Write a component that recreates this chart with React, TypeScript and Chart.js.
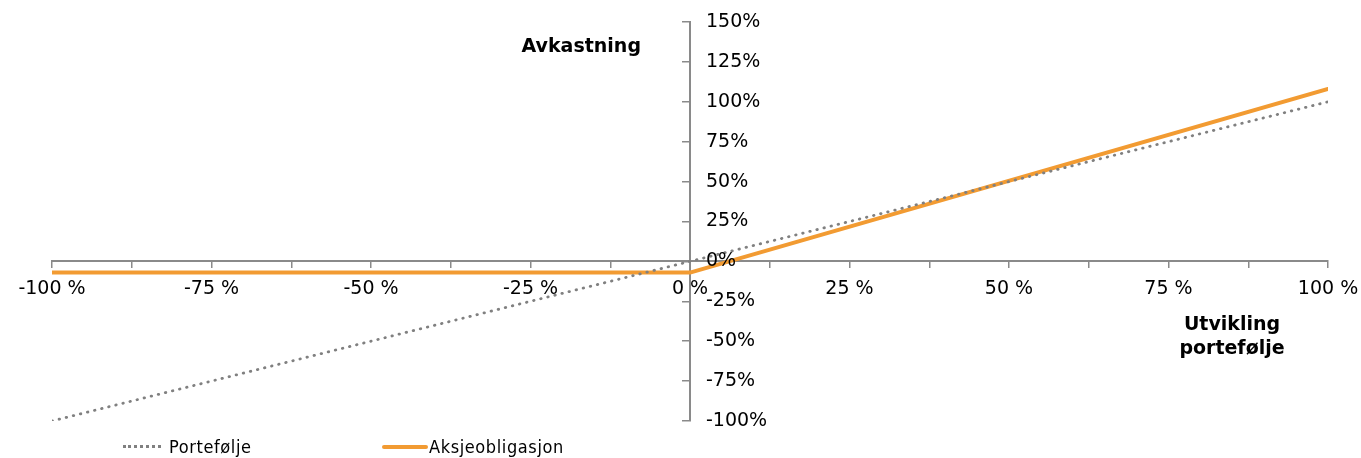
import { useEffect, useRef } from 'react';
import { Chart, registerables } from 'chart.js';

Chart.register(...registerables);

// x = utvikling portefølje (%), y = avkastning (%)
const xPoints = [-100, 0, 100];
const portefolje = [-100, 0, 100];
const aksjeobligasjon = [-7, -7, 108];

const xMin = -100;
const xMax = 100;
const xStep = 12.5;
const xLabelStep = 25;
const yMin = -100;
const yMax = 150;
const yStep = 25;

const seriesNames = ['Portefølje', 'Aksjeobligasjon'];
const grey = '#808080';
const orange = '#F29B32';
const axisColor = '#8a8a8a';
const tickFont = { family: '"DejaVu Sans", Verdana, sans-serif', size: 19 };

// y tick labels sit to the right of the y axis (which crosses at x = 0)
const yLabelsRight = {
  id: 'yLabelsRight',
  afterDraw(chart: any) {
    const { ctx, scales } = chart;
    const x0 = scales.x.getPixelForValue(0);
    ctx.save();
    ctx.font = `${tickFont.size}px ${tickFont.family}`;
    ctx.fillStyle = '#000';
    ctx.textAlign = 'left';
    ctx.textBaseline = 'middle';
    for (const t of scales.y.ticks) {
      ctx.fillText(`${t.value}%`, x0 + 16, scales.y.getPixelForValue(t.value));
    }
    ctx.restore();
  },
};

export default function App() {
  const canvasRef = useRef<HTMLCanvasElement | null>(null);

  useEffect(() => {
    if (!canvasRef.current) return;
    const chart = new Chart(canvasRef.current, {
      type: 'scatter',
      data: {
        datasets: [
          {
            label: seriesNames[0],
            data: xPoints.map((x, i) => ({ x, y: portefolje[i] })),
            showLine: true,
            borderColor: grey,
            borderWidth: 2.8,
            borderDash: [0.5, 6.8],
            borderCapStyle: 'round',
            pointRadius: 0,
          },
          {
            label: seriesNames[1],
            data: xPoints.map((x, i) => ({ x, y: aksjeobligasjon[i] })),
            showLine: true,
            borderColor: orange,
            borderWidth: 4,
            borderCapStyle: 'round',
            borderJoinStyle: 'round',
            pointRadius: 0,
          },
        ],
      },
      options: {
        animation: false,
        responsive: true,
        maintainAspectRatio: false,
        layout: { padding: { left: 52, right: 33, top: 22, bottom: 37 } },
        plugins: {
          legend: { display: false },
          tooltip: { enabled: false },
        },
        scales: {
          x: {
            type: 'linear',
            min: xMin,
            max: xMax,
            position: { y: 0 } as any,
            border: { color: axisColor, width: 2 },
            grid: { drawOnChartArea: false, drawTicks: true, tickLength: 6, color: axisColor, lineWidth: 1.5 },
            ticks: {
              stepSize: xStep,
              font: tickFont,
              color: '#000',
              padding: 10,
              maxRotation: 0,
              autoSkip: false,
              callback: (v: any) => (Number(v) % xLabelStep === 0 ? `${v} %` : ''),
            },
            afterFit: (scale: any) => {
              scale.paddingLeft = 0;
              scale.paddingRight = 0;
            },
          },
          y: {
            type: 'linear',
            min: yMin,
            max: yMax,
            position: { x: 0 } as any,
            border: { color: axisColor, width: 2 },
            grid: { drawOnChartArea: false, drawTicks: true, tickLength: 7, color: axisColor, lineWidth: 1.5 },
            ticks: { stepSize: yStep, display: false },
          },
        },
      },
      plugins: [yLabelsRight],
    });
    return () => chart.destroy();
  }, []);

  const titleStyle: React.CSSProperties = {
    position: 'absolute',
    fontFamily: '"DejaVu Sans", Verdana, sans-serif',
    fontWeight: 'bold',
    fontSize: 19,
    color: '#000',
    lineHeight: '24px',
  };
  const legendText: React.CSSProperties = {
    position: 'absolute',
    top: 436,
    fontFamily: '"DejaVu Sans Condensed", "Liberation Sans Narrow", sans-serif',
    fontSize: 18,
    letterSpacing: '0.6px',
    color: '#000',
    lineHeight: '22px',
    whiteSpace: 'nowrap',
  };

  return (
    <div style={{ position: 'fixed', left: 0, top: 0, width: 1361, height: 458, background: '#fff' }}>
      <canvas ref={canvasRef} />
      <div style={{ ...titleStyle, right: 1361 - 641, top: 33 }}>Avkastning</div>
      <div style={{ ...titleStyle, left: 1132, width: 200, top: 311, textAlign: 'center' }}>
        Utvikling<br />portefølje
      </div>
      <div style={{ position: 'absolute', left: 123, top: 445, width: 38, borderTop: `3px dotted ${grey}` }} />
      <div style={{ ...legendText, left: 169 }}>{seriesNames[0]}</div>
      <div style={{ position: 'absolute', left: 382, top: 444.5, width: 46, height: 4, borderRadius: 2, background: orange }} />
      <div style={{ ...legendText, left: 429 }}>{seriesNames[1]}</div>
    </div>
  );
}
